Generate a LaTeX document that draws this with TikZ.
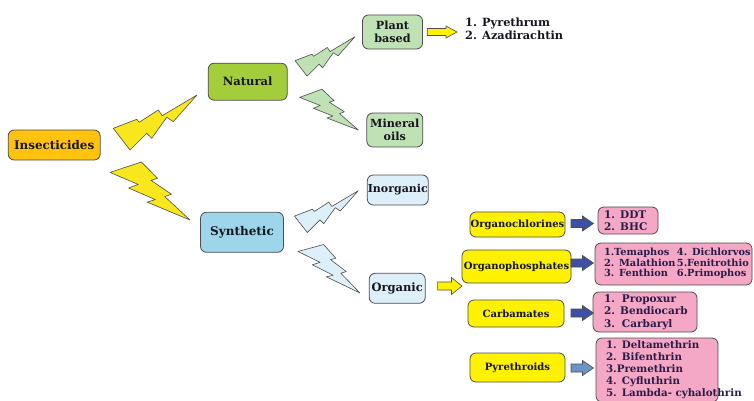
\documentclass[tikz,border=0pt]{standalone}
\usepackage{fontspec}
\setmainfont{DejaVu Serif}
\usetikzlibrary{calc}
\definecolor{insC}{HTML}{FFC20F}
\definecolor{natC}{HTML}{A4CD3C}
\definecolor{synC}{HTML}{9DD6EA}
\definecolor{lgreen}{HTML}{BFE1B4}
\definecolor{lblue}{HTML}{DDEFF8}
\definecolor{boltY}{HTML}{F8E71C}
\definecolor{boxY}{HTML}{FFF200}
\definecolor{pinkC}{HTML}{F5A8C5}
\definecolor{arrB}{HTML}{3F4FA6}
\definecolor{arrB2}{HTML}{6B95C6}
\definecolor{edgeC}{HTML}{4D4D4D}
\definecolor{txtC}{HTML}{15151F}
\definecolor{listC}{HTML}{2A1C48}
\tikzset{
  box/.style={draw=edgeC, line width=0.8pt, rounded corners=6pt, inner sep=0.5pt,
    align=center, text=txtC, font=\fontsize{11.5}{13.6}\selectfont\bfseries},
  ybox/.style={box, fill=boxY, font=\fontsize{10}{11}\selectfont\bfseries},
  pinkbox/.style={draw=edgeC, line width=0.8pt, rounded corners=6pt, fill=pinkC,
    align=left, text=listC, font=\fontsize{10.3}{12}\selectfont\bfseries},
  boltline/.style={draw=edgeC, line width=0.6pt, line join=round},
  arrline/.style={draw=edgeC, line width=0.6pt, line join=miter},
}
% lightning bolt: #1 style, #2 base centre, #3 tip
\newcommand{\boltup}[3]{%
  \draw[#1] ($(#2)!-0.02!(#3)!0.150!90:(#3)$)
    -- ($(#2)!0.264!(#3)!0.1454!90:(#3)$)
    -- ($(#2)!0.272!(#3)!0.0865!90:(#3)$)
    -- ($(#2)!0.531!(#3)!0.160!90:(#3)$)
    -- ($(#2)!0.537!(#3)!0.0086!270:(#3)$)
    -- (#3)
    -- ($(#2)!0.612!(#3)!0.327!270:(#3)$)
    -- ($(#2)!0.572!(#3)!0.1075!270:(#3)$)
    -- ($(#2)!0.303!(#3)!0.2396!270:(#3)$)
    -- ($(#2)!0.282!(#3)!0.124!270:(#3)$)
    -- ($(#2)!0.021!(#3)!0.1614!270:(#3)$)
    -- cycle;}
\newcommand{\boltdown}[3]{%
  \draw[#1] ($(#2)!0.106!(#3)!0.1879!90:(#3)$)
    -- ($(#2)!0.381!(#3)!0.2262!90:(#3)$)
    -- ($(#2)!0.335!(#3)!0.1068!90:(#3)$)
    -- ($(#2)!0.631!(#3)!0.2656!90:(#3)$)
    -- ($(#2)!0.587!(#3)!0.0605!90:(#3)$)
    -- (#3)
    -- ($(#2)!0.465!(#3)!0.3009!270:(#3)$)
    -- ($(#2)!0.522!(#3)!0.1569!270:(#3)$)
    -- ($(#2)!0.186!(#3)!0.2101!270:(#3)$)
    -- ($(#2)!0.248!(#3)!0.0864!270:(#3)$)
    -- ($(#2)!-0.106!(#3)!0.1519!270:(#3)$)
    -- cycle;}
% horizontal block arrow: #1 style, #2 start, #3 tip, #4 body half, #5 head half, #6 head length
\newcommand{\harrow}[6]{%
  \draw[#1] ($(#2)+(0,#4)$) -- ($(#3)+(-#6,#4)$) -- ($(#3)+(-#6,#5)$) -- (#3)
    -- ($(#3)+(-#6,-#5)$) -- ($(#3)+(-#6,-#4)$) -- ($(#2)+(0,-#4)$) -- cycle;}
\begin{document}
\begin{tikzpicture}[x=1pt,y=1pt]
\useasboundingbox (0,0) rectangle (754,400);
\fill[white] (0,0) rectangle (754,400);

% main nodes
\node[box, fill=insC, minimum width=92pt, minimum height=30pt, font=\fontsize{11.9}{13.6}\selectfont\bfseries] (ins) at (54.2,255) {Insecticides};
\node[box, fill=natC, minimum width=79pt, minimum height=37pt] (nat) at (247.7,318.3) {Natural};
\node[box, fill=synC, minimum width=83pt, minimum height=40pt, font=\fontsize{12}{13.6}\selectfont\bfseries] (syn) at (242,167.7) {Synthetic};
\node[box, fill=lgreen, minimum width=60pt, minimum height=34pt, font=\fontsize{11.2}{13.6}\selectfont\bfseries] (plant) at (392.5,368) {Plant\\based};
\node[box, fill=lgreen, minimum width=56pt, minimum height=34pt, font=\fontsize{11.2}{13.4}\selectfont\bfseries] (mineral) at (394.8,270) {Mineral\\oils};
\node[box, fill=lblue, minimum width=61pt, minimum height=30pt, font=\fontsize{11}{13.6}\selectfont\bfseries] (inorg) at (397.8,210) {Inorganic};
\node[box, fill=lblue, minimum width=56pt, minimum height=30pt] (org) at (397.2,111.7) {Organic};

\node[ybox, minimum width=95pt, minimum height=25pt] (ochl) at (517.5,175.5) {Organochlorines};
\node[ybox, minimum width=109pt, minimum height=33pt] (ophos) at (516.5,133.5) {Organophosphates};
\node[ybox, minimum width=96pt, minimum height=27pt] (carb) at (516,86.5) {Carbamates};
\node[ybox, minimum width=95pt, minimum height=29pt] (pyr) at (517.5,32.5) {Pyrethroids};

% lists
\node[align=left, anchor=west, inner xsep=0pt, text=txtC, font=\fontsize{11.3}{13.3}\selectfont\bfseries] (plist) at (465,371.5)
  {1. Pyrethrum\\2. Azadirachtin};
\node[pinkbox, font=\fontsize{10.5}{12.4}\selectfont\bfseries, minimum width=60pt, minimum height=27pt,
  text width=48pt, inner xsep=6pt, inner ysep=0pt] (l1) at (628,179.5)
  {\mbox{1. DDT}\\\mbox{2. BHC}};
\node[pinkbox, font=\fontsize{9.8}{10.8}\selectfont\bfseries, minimum width=157pt, minimum height=42pt,
  text width=139pt, inner xsep=9pt, inner ysep=0pt] (l2) at (673.5,136)
  {\begin{tabular}{@{}l@{\hspace{1.5pt}}l@{}}
   1.Temaphos & 4. Dichlorvos\\
   2. Malathion & 5.Fenitrothio\\
   3. Fenthion & 6.Primophos
   \end{tabular}};
\node[pinkbox, font=\fontsize{10.5}{12.4}\selectfont\bfseries, minimum width=104pt, minimum height=40pt,
  text width=82pt, inner xsep=11pt, inner ysep=0pt] (l3) at (645,88)
  {\mbox{1.~~Propoxur}\\\mbox{2. Bendiocarb}\\\mbox{3.~~Carbaryl}};
\node[pinkbox, minimum width=122pt, minimum height=64pt, text width=102pt, inner xsep=10pt, inner ysep=0pt] (l4) at (657,30)
  {\mbox{1. Deltamethrin}\\\mbox{2. Bifenthrin}\\\mbox{3.Premethrin}\\\mbox{4. Cyfluthrin}\\\mbox{5. Lambda- cyhalothrin}};

% bolt end points
\coordinate (b1s) at (121.5,261);   \coordinate (b1e) at (197,305);
\coordinate (b2s) at (125.7,232.8); \coordinate (b2e) at (190,180);
\coordinate (b3s) at (301,331.7);   \coordinate (b3e) at (355,363.3);
\coordinate (b4s) at (310.8,306.7); \coordinate (b4e) at (358.3,270);
\coordinate (b5s) at (300.8,175.8); \coordinate (b5e) at (358.3,209.3);
\coordinate (b6s) at (310.8,152);   \coordinate (b6e) at (360,107);

\boltup{boltline, fill=boltY}{b1s}{b1e}
\boltdown{boltline, fill=boltY}{b2s}{b2e}
\boltup{boltline, fill=lgreen}{b3s}{b3e}
\boltdown{boltline, fill=lgreen}{b4s}{b4e}
\boltup{boltline, fill=lblue}{b5s}{b5e}
\boltdown{boltline, fill=lblue}{b6s}{b6e}

% block arrows
\coordinate (a0s) at ([xshift=4.5pt]plant.east); \coordinate (a0e) at (457,368);
\coordinate (a5s) at ([xshift=12pt]org.east |- 0,114); \coordinate (a5e) at (462,114);
\coordinate (a1s) at (571,176.5); \coordinate (a1e) at (593.5,176.5);
\coordinate (a2s) at (571,137);   \coordinate (a2e) at (593.5,137);
\coordinate (a3s) at (571,87);    \coordinate (a3e) at (593.5,87);
\coordinate (a4s) at (571,32);    \coordinate (a4e) at (593.5,32);

\harrow{arrline, fill=boxY}{a0s}{a0e}{3.5}{6}{11}
\harrow{arrline, fill=boxY}{a5s}{a5e}{4}{8.5}{10.5}
\harrow{arrline, fill=arrB}{a1s}{a1e}{4}{7.5}{11}
\harrow{arrline, fill=arrB}{a2s}{a2e}{4}{7.5}{11}
\harrow{arrline, fill=arrB}{a3s}{a3e}{4}{7.5}{11}
\harrow{arrline, fill=arrB2}{a4s}{a4e}{4}{7.5}{11}
\end{tikzpicture}
\end{document}
